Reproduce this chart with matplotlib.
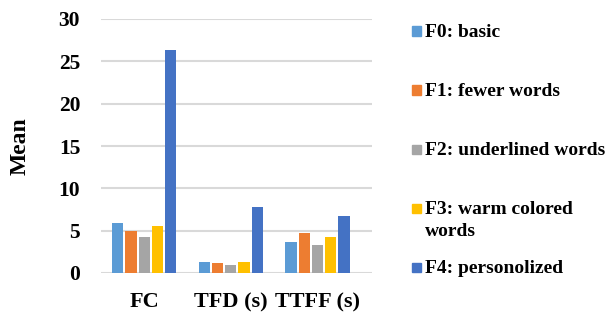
import matplotlib
matplotlib.use("Agg")
import matplotlib.pyplot as plt
from matplotlib.patches import Rectangle
import numpy as np

plt.rcParams['font.family'] = ['Liberation Serif', 'DejaVu Serif']
plt.rcParams['font.weight'] = 'bold'

categories = ['FC', 'TFD (s)', 'TTFF (s)']
series_names = ['F0: basic', 'F1: fewer words', 'F2: underlined words',
                'F3: warm colored\nwords', 'F4: personolized']
f0 = [5.9, 1.26, 3.7]
f1 = [5.0, 1.14, 4.68]
f2 = [4.3, 0.98, 3.27]
f3 = [5.55, 1.26, 4.28]
f4 = [26.3, 7.83, 6.69]
colors = ['#5B9BD5', '#ED7D31', '#A5A5A5', '#FFC000', '#4472C4']

W, H = 612, 313
fig = plt.figure(figsize=(W / 100, H / 100), dpi=100)
ax = fig.add_axes([101 / W, 1 - 273 / H, 271 / W, 254 / H])

x = np.arange(len(categories))
slot = 0.153
for i, vals in enumerate([f0, f1, f2, f3, f4]):
    ax.bar(x + (i - 2) * slot, vals, width=0.13, color=colors[i],
           label=series_names[i], zorder=3)

ax.set_ylim(0, 30)
ax.set_yticks(range(0, 31, 5))
ax.set_xlim(-0.5, 2.63)
ax.set_xticks(x)
ax.set_xticklabels(categories, fontsize=16, fontweight='bold')
ax.tick_params(axis='y', labelsize=15.5, length=0, pad=15)
ax.tick_params(axis='x', length=0, pad=14)
ax.grid(axis='y', color='#d9d9d9', linewidth=1.5, zorder=0)
for s in ax.spines.values():
    s.set_visible(False)
ax.set_ylabel('Mean', fontsize=17, fontweight='bold', labelpad=20)

# legend drawn by hand so the wrapped entry lines up like the original
legend_rows = [31, 90, 149, 208, 267]
for name, col, yc in zip(series_names, colors, legend_rows):
    fig.patches.append(Rectangle((412 / W, 1 - (yc + 4.5) / H), 9 / W, 9 / H,
                                 transform=fig.transFigure, color=col))
    fig.text(425 / W, 1 - (yc - 7) / H, name, fontsize=14,
             fontweight='bold', va='top', ha='left', linespacing=1.35)

fig.savefig('out.png', dpi=100)
